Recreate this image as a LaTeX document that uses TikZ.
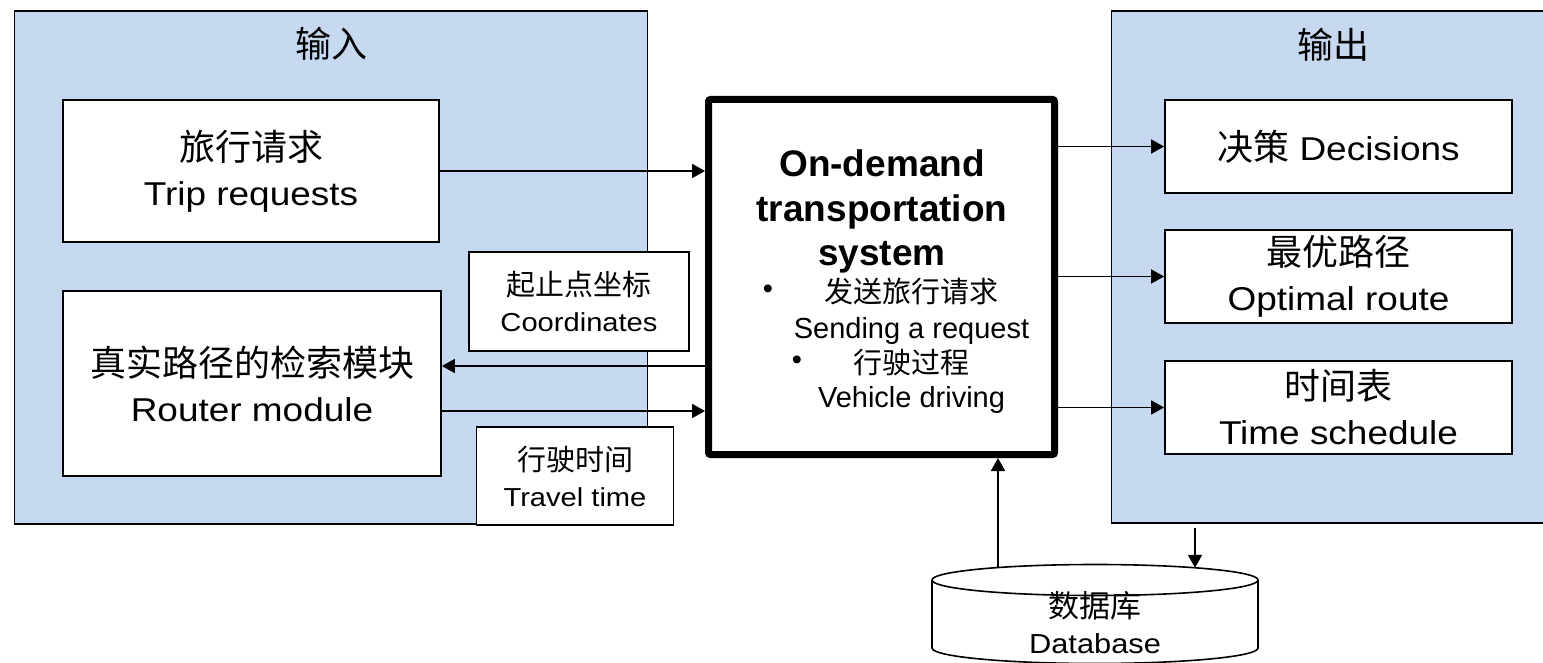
\documentclass[tikz,border=0pt]{standalone}
\usepackage{fontspec}
\setmainfont{Liberation Sans}
\newfontfamily\widesf{Liberation Sans}[FakeStretch=1.12]
\newfontfamily\cjk{Noto Sans CJK SC}
\usetikzlibrary{arrows.meta,calc}
\definecolor{panelblue}{HTML}{C6D9F1}

\begin{document}
\begin{tikzpicture}[x=1pt,y=-1pt,
  panel/.style={draw=black, line width=1.6pt, fill=panelblue, inner sep=0pt},
  box/.style={draw=black, line width=1.8pt, fill=white, inner sep=0pt, align=center},
  bigtxt/.style={font=\widesf\fontsize{33}{45}\selectfont},
  smalltxt/.style={font=\widesf\fontsize{26}{36}\selectfont},
  arr/.style={line width=1.8pt, -{Triangle[length=13pt,width=14pt]}},
  systitle/.style={font=\bfseries\fontsize{37}{44}\selectfont, inner sep=0pt, anchor=base},
  sysitem/.style={font=\fontsize{29}{35}\selectfont, inner sep=0pt, anchor=base},
  title/.style={font=\cjk\fontsize{36}{40}\selectfont, inner sep=0pt}
]
\useasboundingbox (0,0) rectangle (1543,663);

% input and output panels
\node[panel, minimum width=633, minimum height=513] (inpanel) at (331,267.5) {};
\node[panel, minimum width=437, minimum height=512] (outpanel) at (1330,267) {};
\node[title] (intitle) at (331,44) {输入};
\node[title] (outtitle) at (1333,45) {输出};

% input boxes
\node[box, bigtxt, minimum width=376, minimum height=142] (trip) at (251,171)
  {{\cjk\fontsize{36}{45}\selectfont 旅行请求}\\Trip requests};
\node[box, bigtxt, minimum width=378, minimum height=185] (router) at (252,383.5)
  {{\cjk\fontsize{36}{45}\selectfont 真实路径的检索模块}\\Router module};

% output boxes
\node[box, bigtxt, minimum width=347, minimum height=93] (dec) at (1338.5,146.5)
  {{\cjk\fontsize{36}{45}\selectfont 决策} Decisions};
\node[box, bigtxt, minimum width=347, minimum height=93] (route) at (1338.5,276.5)
  {{\cjk\fontsize{36}{45}\selectfont 最优路径}\\Optimal route};
\node[box, bigtxt, minimum width=347, minimum height=93] (sched) at (1338.5,407.5)
  {{\cjk\fontsize{36}{45}\selectfont 时间表}\\Time schedule};

% central system
\node[draw=black, fill=white, line width=7pt, rounded corners=2pt,
      minimum width=346, minimum height=355, inner sep=0pt] (sys) at (881.5,277) {};
\node[systitle] (sysA) at (882,176.5) {On-demand};
\node[systitle] (sysB) at (882,221.5) {transportation};
\node[systitle] (sysC) at (882,265.5) {system};
\node[sysitem] (itemA) at (911.5,302) {\cjk 发送旅行请求};
\node[sysitem] (itemB) at (911.5,338) {Sending a request};
\node[sysitem] (itemC) at (911.5,373) {\cjk 行驶过程};
\node[sysitem] (itemD) at (911.5,407) {Vehicle driving};
\node[font=\fontsize{29}{35}\selectfont, inner sep=0pt] (dotA) at (768,292) {•};
\node[font=\fontsize{29}{35}\selectfont, inner sep=0pt] (dotB) at (797,362.5) {•};

% message labels
\node[box, smalltxt, minimum width=220, minimum height=99] (coord) at (579,301.5)
  {{\cjk\fontsize{29}{36}\selectfont 起止点坐标}\\Coordinates};
\node[box, smalltxt, minimum width=197, minimum height=98] (travel) at (575,476)
  {{\cjk\fontsize{29}{36}\selectfont 行驶时间}\\Travel time};

% database cylinder
\fill[white] (932,580) -- (932,648)
  .. controls (932,656.56) and (1005,663.5) .. (1095,663.5)
  .. controls (1185,663.5) and (1258,656.56) .. (1258,648) -- (1258,580) -- cycle;
\draw[line width=1.6pt] (932,580) -- (932,648)
  .. controls (932,656.56) and (1005,663.5) .. (1095,663.5)
  .. controls (1185,663.5) and (1258,656.56) .. (1258,648) -- (1258,580);
\draw[line width=1.6pt, fill=white] (1095,580) ellipse [x radius=163, y radius=15.5];
\coordinate (dbin) at (998,567.5);
\coordinate (dbout) at (1195,567.8);
\node[inner sep=0pt, anchor=base, font=\cjk\fontsize{31}{36}\selectfont] (dbzh) at (1095,617) {数据库};
\node[inner sep=0pt, anchor=base, font=\widesf\fontsize{27.5}{36}\selectfont] (dben) at (1095,653) {Database};

% connectors
\draw[arr] (trip.east) -- (trip.east -| sys.west);
\draw[arr] ([yshift=17.5pt]router.east -| sys.west) -- ([yshift=17.5pt]router.east);
\draw[arr] ([yshift=-27.5pt]router.east) -- ([yshift=-27.5pt]router.east -| sys.west);
\draw[arr] (sys.east |- dec.west) -- (dec.west);
\draw[arr] (sys.east |- route.west) -- (route.west);
\draw[arr] (sys.east |- sched.west) -- (sched.west);
\draw[arr] (dbin) -- (dbin |- sys.south);
\draw[arr] ($(dbout |- outpanel.south)+(0,4)$) -- (dbout);
\end{tikzpicture}
\end{document}
